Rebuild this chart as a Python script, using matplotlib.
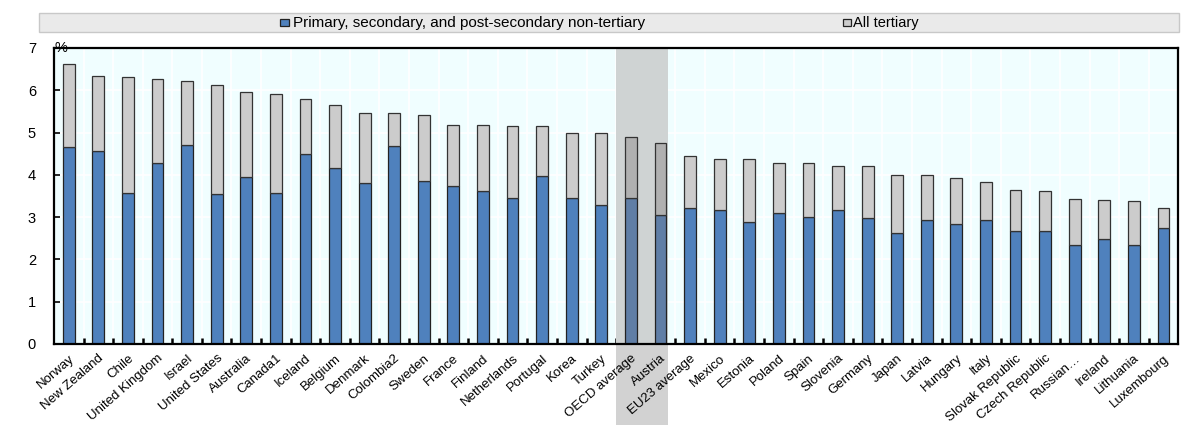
import matplotlib.pyplot as plt
import numpy as np
from matplotlib.patches import Rectangle
from matplotlib.transforms import blended_transform_factory

plt.rcParams['font.family'] = ['Liberation Sans', 'DejaVu Sans']
plt.rcParams['font.size'] = 10.5

# countries / aggregates
countries = ['Norway', 'New Zealand', 'Chile', 'United Kingdom', 'Israel', 'United States',
             'Australia', 'Canada1', 'Iceland', 'Belgium', 'Denmark', 'Colombia2', 'Sweden',
             'France', 'Finland', 'Netherlands', 'Portugal', 'Korea', 'Turkey', 'OECD average',
             'Austria', 'EU23 average', 'Mexico', 'Estonia', 'Poland', 'Spain', 'Slovenia',
             'Germany', 'Japan', 'Latvia', 'Hungary', 'Italy', 'Slovak Republic',
             'Czech Republic', 'Russian…', 'Ireland', 'Lithuania', 'Luxembourg']

# non-tertiary (primary, secondary, post-sec non-tertiary), % of GDP
non_tertiary = [4.66, 4.57, 3.58, 4.28, 4.71, 3.54, 3.95, 3.56, 4.50, 4.17, 3.80, 4.69, 3.85,
                3.73, 3.61, 3.46, 3.97, 3.46, 3.29, 3.46, 3.05, 3.21, 3.16, 2.88, 3.09, 3.00,
                3.16, 2.98, 2.62, 2.93, 2.83, 2.93, 2.67, 2.67, 2.35, 2.48, 2.35, 2.74]
# total
total = [6.62, 6.34, 6.31, 6.26, 6.21, 6.12, 5.97, 5.90, 5.80, 5.65, 5.46, 5.46, 5.41,
         5.18, 5.18, 5.15, 5.15, 5.00, 5.00, 4.89, 4.76, 4.44, 4.38, 4.38, 4.28, 4.28,
         4.21, 4.21, 3.99, 3.99, 3.92, 3.82, 3.63, 3.61, 3.43, 3.41, 3.39, 3.21]
tertiary = [t - n for t, n in zip(total, non_tertiary)]

highlight = ['OECD average', 'Austria']

blue = '#4F81BD'
grey = '#CCCCCC'
blue_hl = '#607EA6'
grey_hl = '#B0B0B0'

fig = plt.figure(figsize=(11.81, 4.25), dpi=100)
ax = fig.add_axes([0.0457, 0.1906, 0.952, 0.6965])
ax.set_facecolor('#F0FEFF')

x = np.arange(len(countries))
c1 = [blue_hl if c in highlight else blue for c in countries]
c2 = [grey_hl if c in highlight else grey for c in countries]

ax.bar(x, non_tertiary, 0.4, color=c1, edgecolor='#222222', linewidth=0.9, zorder=3)
ax.bar(x, tertiary, 0.4, bottom=non_tertiary, color=c2, edgecolor='#333333', linewidth=0.9, zorder=3)

# shaded band behind OECD average / Austria: inside the axes over the grid,
# and below the axes (figure level, under the tick labels)
ax.axvspan(18.49, 20.24, facecolor='#CFD3D3', edgecolor='none', zorder=1)
trans = blended_transform_factory(ax.transData, fig.transFigure)
fig.patches.append(Rectangle((18.49, 0.0), 1.75, 0.1906, transform=trans,
                             facecolor='#D2D2D2', edgecolor='none', zorder=-1))

ax.set_xlim(-0.5, len(countries) - 0.5)
ax.set_ylim(0, 7)
ax.set_yticks(range(0, 8))
ax.set_xticks(x)
ax.set_xticklabels(countries, rotation=41, ha='right', rotation_mode='anchor', fontsize=9.5)
ax.set_xticks(np.arange(len(countries) - 1) + 0.5, minor=True)
ax.tick_params(axis='x', which='major', length=0, pad=6)
ax.tick_params(axis='x', which='minor', direction='in', length=4, width=1.8, color='black')
ax.tick_params(axis='y', direction='in', length=4, width=1.2, pad=13)

ax.grid(axis='y', color='white', linewidth=1.2)
ax.grid(axis='x', which='minor', color='white', linewidth=1.2)
ax.set_axisbelow(True)
for s in ax.spines.values():
    s.set_linewidth(1.6)
    s.set_color('black')
    s.set_zorder(4)

ax.text(-0.47, 7.0, '%', ha='left', va='center', fontsize=10.5, zorder=5)

# legend band on top
fig.patches.append(Rectangle((0.033, 0.925), 0.965, 0.045, transform=fig.transFigure,
                             facecolor='#EAEAEA', edgecolor='#C8C8C8', linewidth=1))
fig.patches.append(Rectangle((280 / 1181, 1 - 26 / 425), 9 / 1181, 7 / 425,
                             transform=fig.transFigure, facecolor=blue,
                             edgecolor='#222222', linewidth=0.9))
fig.text(293 / 1181, 1 - 22.5 / 425, 'Primary, secondary, and post-secondary non-tertiary',
         ha='left', va='center', fontsize=11)
fig.patches.append(Rectangle((843 / 1181, 1 - 26 / 425), 8 / 1181, 7 / 425,
                             transform=fig.transFigure, facecolor=grey,
                             edgecolor='#222222', linewidth=0.9))
fig.text(853 / 1181, 1 - 22.5 / 425, 'All tertiary', ha='left', va='center', fontsize=10.5)

fig.savefig('out.png', dpi=100)
